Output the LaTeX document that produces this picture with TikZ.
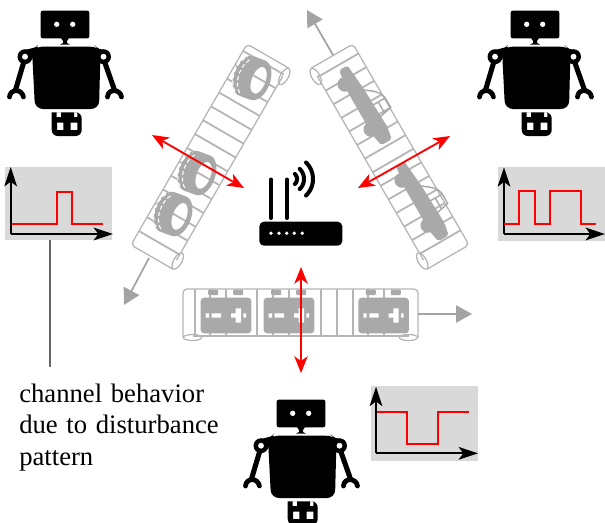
\documentclass[tikz,border=0pt]{standalone}
\usepackage{fontspec}
\setmainfont{Liberation Serif}[WordSpace=1.3]
\usetikzlibrary{arrows.meta}
\definecolor{beltgray}{HTML}{B5B5B5}
\definecolor{itemgray}{HTML}{A9A9A9}
\definecolor{arrowgray}{HTML}{A3A3A3}
\definecolor{plotgray}{HTML}{D9D9D9}
\newcommand{\beltdraw}[3]{%
  \draw[beltgray,line width=.95pt,rounded corners=3pt] (0,48.5) -- (0,0) -- (#1,0) -- (#1,48.5);
  \draw[beltgray,line width=.95pt] (9.5,47) -- (#1-9.5,47);
  \draw[beltgray,line width=.95pt] plot[domain=0:360,samples=40] ({9.5+9*cos(\x)},{48.5+#2*sin(\x)}) -- cycle;
  \draw[beltgray,line width=.95pt] plot[domain=0:360,samples=40] ({#1-9.5+9*cos(\x)},{48.5+#2*sin(\x)}) -- cycle;
  \foreach \s in {#3} {\draw[beltgray,line width=1.35pt] (\s,0) -- (\s,47);}
}
\tikzset{
  x=.75pt,y=-.75pt,
  plotbox/.style={fill=plotgray,draw=none,inner sep=0pt},
  axisline/.style={black,line width=1.5pt,-{Stealth[length=14.5pt,width=9.5pt,inset=3.5pt]}},
  signal/.style={red,line width=1.6pt,line join=miter},
  link/.style={red,line width=1.4pt,{Stealth[length=12.5pt,width=10pt,inset=3.5pt]}-{Stealth[length=12.5pt,width=10pt,inset=3.5pt]}},
  flow/.style={arrowgray,line width=1.3pt,-{Triangle[length=12pt,width=13pt]}},
  robotpic/.pic={
    \fill[black,rounded corners=1.5pt] (40.7,10.7) rectangle (89.3,38.3);
    \fill[white] (56.7,24.3) circle[radius=2pt] (72.7,24.3) circle[radius=2pt];
    \fill[black] (61,38) -- (69,38) -- (67,41) -- (67,43) -- (70,44.5) -- (60,44.5) -- (63,43) -- (63,41) -- cycle;
    \fill[black,rounded corners=6pt] (36,46.5) -- (32,50) -- (35,109) -- (99,109) -- (100.5,50) -- (96,46.5) -- cycle;
    \fill[black] (25,50) -- (38,46.7) -- (38,58) -- (25,58) -- cycle (103.5,50) -- (92,46.7) -- (92,58) -- (103.5,58) -- cycle;
    \fill[black] (25,56.7) circle[radius=5.6pt];
    \fill[black] (103.5,56.7) circle[radius=5.6pt];
    \draw[black,line width=3.8pt] (23.5,63) -- (15.5,90);
    \draw[black,line width=3.8pt] (105,63) -- (114.5,90);
    \fill[white] (25,56.7) circle[radius=2.2pt];
    \fill[white] (103.5,56.7) circle[radius=2.2pt];
    \draw[black,line width=3.6pt,line cap=round] (9.5,97) .. controls (10,89) and (21.5,88) .. (23.5,97);
    \draw[black,line width=3.6pt,line cap=round] (107.5,97) .. controls (108,88) and (120.5,89) .. (121.5,97);
    \fill[black,even odd rule,rounded corners=4.5pt] (51.7,112.3) -- (51.7,136) -- (81.7,136) -- (81.7,112.3) [sharp corners] -- cycle
      (57,122.7) rectangle (63.3,130) (70.7,122.7) rectangle (77.3,130)
      (56.7,112.3) rectangle (61,117) (74,112.3) rectangle (77.3,117);
  },
  tirepic/.pic={
    \fill[itemgray,even odd rule]
      plot[domain=-90:90,samples=30] ({6+12.5*cos(\x)},{21*sin(\x)}) --
      plot[domain=90:270,samples=30] ({-6+12.5*cos(\x)},{21*sin(\x)}) -- cycle
      plot[domain=0:360,samples=40] ({7+7*cos(\x)},{14*sin(\x)}) -- cycle;
    \draw[white,line width=.8pt,dash pattern=on 3pt off 2pt] plot[domain=115:245,samples=30] ({-1+12.5*cos(\x)},{20*sin(\x)});
    \draw[white,line width=.8pt,dash pattern=on 3pt off 2pt] plot[domain=115:245,samples=30] ({-6+12.5*cos(\x)},{20*sin(\x)});
  },
  carpic/.pic={
    \fill[itemgray,rounded corners=1.5pt] (-43,-4.5) -- (-43,5) -- (-20,8.5) -- (30,8.5) -- (43,6) -- (43,-6) -- (30,-8.5) -- (-15,-7) -- cycle;
    \fill[itemgray] (-28,7) circle[radius=5.6pt] (24,7) circle[radius=5.6pt];
    \draw[itemgray,line width=1.1pt] (-14,-6) .. controls (-8,-14) and (-4,-20) .. (3,-21) -- (15,-21) -- (18,-6);
    \draw[itemgray,line width=1.1pt] (4,-6) -- (4,-21) (4,-13) -- (17,-13);
  },
  batterypic/.pic={
    \fill[itemgray,rounded corners=2.5pt] (0,0) rectangle (50.6,35.6);
    \fill[itemgray,rounded corners=.8pt] (7.5,-8.2) rectangle (17.5,-2.5) (32.5,-8.2) rectangle (42.5,-2.5);
    \fill[white] (5,15.7) rectangle (8.3,20) (11,15.7) rectangle (20.3,20);
    \fill[white] (30.3,15.7) rectangle (40,20) (42.7,15.7) rectangle (45.3,20) (35,10.7) rectangle (40.3,25);
  }
}
\begin{document}
\begin{tikzpicture}
\useasboundingbox (0,0) rectangle (605,522);
% conveyors
\begin{scope}[shift={(247,44)},x={(-.375pt,-.6495pt)},y={(.6495pt,-.375pt)}]
  \beltdraw{232}{4}{8,24,...,224}
\end{scope}
\begin{scope}[shift={(353,44)},x={(.375pt,-.6495pt)},y={(-.6495pt,-.375pt)}]
  \beltdraw{232}{4}{11,26.7,...,226}
\end{scope}
\begin{scope}[shift={(183,289)}]
  \beltdraw{235}{3}{12,27,43,74,90,106,138,154,170,185,201}
\end{scope}
% loads
\pic[rotate=-20] at (252,78) {tirepic};
\pic[rotate=-20] at (197,173) {tirepic};
\pic[rotate=-20] at (173,214) {tirepic};
\pic[rotate=-60] at (365,105) {carpic};
\pic[rotate=-60] at (422,201) {carpic};
\pic at (200.7,297.7) {batterypic};
\pic at (263.7,297.7) {batterypic};
\pic at (358.3,297.7) {batterypic};
% flow arrows
\coordinate (tireout) at (149,258);
\coordinate (tiretip) at (124,305);
\coordinate (carout) at (333,55);
\coordinate (cartip) at (307,10);
\coordinate (batout) at (418,314);
\coordinate (battip) at (472,314);
\draw[flow] (tireout) -- (tiretip);
\draw[flow] (carout) -- (cartip);
\draw[flow] (batout) -- (battip);
% router
\node[fill=black,rounded corners=3.5pt,minimum width=62.25pt,minimum height=18pt,inner sep=0pt] (router) at (300.8,233.7) {};
\fill[white] (271,233.3) circle[radius=1.4pt] (279,233.3) circle[radius=1.4pt] (286.7,233.3) circle[radius=1.4pt] (294.3,233.3) circle[radius=1.4pt] (302.3,233.3) circle[radius=1.4pt];
\draw[black,line width=3pt,line cap=round] (271,179.5) -- (271,218);
\draw[black,line width=3pt,line cap=round] (287,179.5) -- (287,218);
\draw[black,line width=3pt,line cap=round] plot[domain=-46:46,samples=20] ({290+7*cos(\x)},{179+7*sin(\x)});
\draw[black,line width=3pt,line cap=round] plot[domain=-46:46,samples=20] ({290+14*cos(\x)},{179+14*sin(\x)});
\draw[black,line width=3pt,line cap=round] plot[domain=-46:46,samples=20] ({290+23*cos(\x)},{179+23*sin(\x)});
% robots
\pic at (0,0) {robotpic};
\pic at (470,0) {robotpic};
\pic at (236,389) {robotpic};
% plots
\node[plotbox,minimum width=80.25pt,minimum height=54.75pt] (plotleft) at (58.5,203.5) {};
\node[plotbox,minimum width=80.5pt,minimum height=55.25pt] (plotright) at (551.3,203.8) {};
\node[plotbox,minimum width=80.25pt,minimum height=56.25pt] (plotbottom) at (424.5,423.3) {};
\coordinate (leftorigin) at (10.7,234);
\coordinate (rightorigin) at (504,234);
\coordinate (bottomorigin) at (376,453.3);
\draw[axisline] (leftorigin) -- (10.7,167);
\draw[axisline] (leftorigin) -- (113,234);
\draw[signal] (11.7,224.3) -- (56.7,224.3) -- (56.7,191.7) -- (72.3,191.7) -- (72.3,224.3) -- (103,224.3);
\draw[axisline] (rightorigin) -- (504,167.3);
\draw[axisline] (rightorigin) -- (605,234);
\draw[signal] (504,224.3) -- (519.3,224.3) -- (519.3,190.7) -- (535,190.7) -- (535,224.3) -- (550,224.3) -- (550,190.7) -- (581,190.7) -- (581,224.3) -- (596,224.3);
\draw[axisline] (bottomorigin) -- (376,386.7);
\draw[axisline] (bottomorigin) -- (478,453.3);
\draw[signal] (377,411.7) -- (407.3,411.7) -- (407.3,444) -- (437.7,444) -- (437.7,411.7) -- (469,411.7);
% wireless links
\coordinate (linkA) at (152,135);
\coordinate (linkB) at (244,188);
\coordinate (linkC) at (450,136);
\coordinate (linkD) at (358,188);
\coordinate (linkE) at (301,267);
\coordinate (linkF) at (301,373);
\draw[link] (linkA) -- (linkB);
\draw[link] (linkC) -- (linkD);
\draw[link] (linkE) -- (linkF);
% callout
\coordinate (calloutend) at (50,367);
\draw[black!60,line width=.95pt] (plotleft.south -| calloutend) -- (calloutend);
\node[anchor=north west,align=left,inner sep=0pt,font=\fontsize{20}{23.6}\selectfont] (note) at (19,383.5) {channel behavior\\due to disturbance\\pattern};
\end{tikzpicture}
\end{document}
